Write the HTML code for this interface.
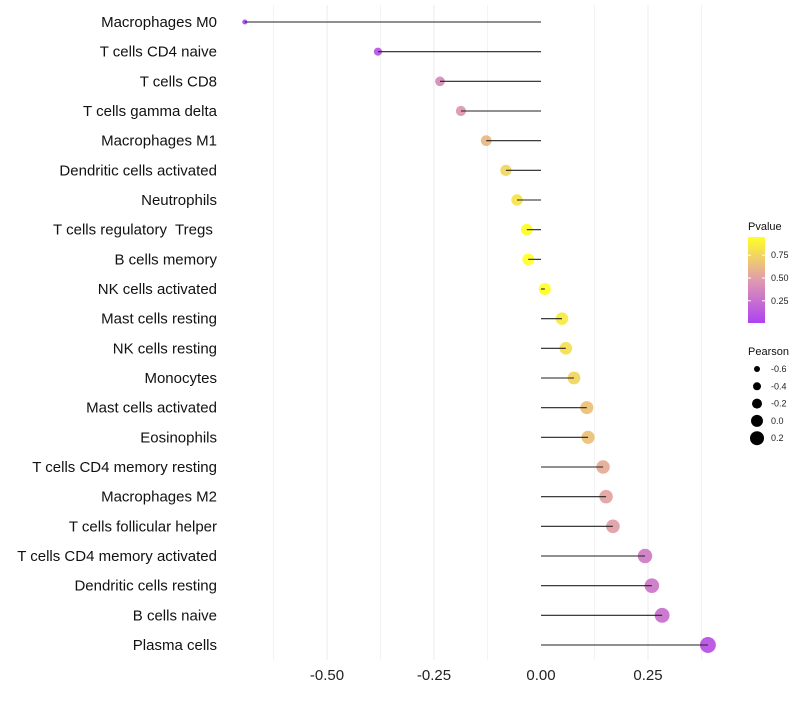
<!DOCTYPE html>
<html><head><meta charset="utf-8"><style>
body{margin:0;background:#fff;font-family:"Liberation Sans",sans-serif}
svg text{font-family:"Liberation Sans",sans-serif}
</style></head><body>
<svg id="chart" width="800" height="700"></svg>
<script>
const categories=["Macrophages M0","T cells CD4 naive","T cells CD8","T cells gamma delta","Macrophages M1","Dendritic cells activated","Neutrophils","T cells regulatory\u00a0 Tregs\u00a0","B cells memory","NK cells activated","Mast cells resting","NK cells resting","Monocytes","Mast cells activated","Eosinophils","T cells CD4 memory resting","Macrophages M2","T cells follicular helper","T cells CD4 memory activated","Dendritic cells resting","B cells naive","Plasma cells"];
const pearson=[-0.692,-0.381,-0.236,-0.187,-0.128,-0.082,-0.056,-0.033,-0.030,0.009,0.049,0.058,0.077,0.107,0.110,0.145,0.152,0.168,0.243,0.259,0.283,0.390];
const pvalue=[0.03,0.12,0.40,0.45,0.62,0.76,0.82,0.94,0.95,0.98,0.85,0.80,0.75,0.66,0.66,0.56,0.52,0.50,0.32,0.30,0.26,0.10];
const xTicks=[-0.5,-0.25,0,0.25];
const xTickLabels=["-0.50","-0.25","0.00","0.25"];
const pTicks=[0.25,0.5,0.75];
const sizeTicks=[-0.6,-0.4,-0.2,0.0,0.2];
const NS="http://www.w3.org/2000/svg";
const svg=document.getElementById('chart');
function el(t,a,p){const e=document.createElementNS(NS,t);for(const k in a)e.setAttribute(k,a[k]);(p||svg).appendChild(e);return e;}
const x=v=>541+v*428;
const y=i=>22+i*(623/21);
const r=v=>6+5*v;
function lerp(a,b,t){return Math.round(a+(b-a)*t);}
function color(p){const t=Math.max(0,Math.min(1,(p-0.006)/(0.95-0.006)));
 const s=[[160,32,240],[218,138,160],[255,255,0]];let a,b,u;
 if(t<0.5){a=s[0];b=s[1];u=t/0.5;}else{a=s[1];b=s[2];u=(t-0.5)/0.5;}
 return `rgb(${lerp(a[0],b[0],u)},${lerp(a[1],b[1],u)},${lerp(a[2],b[2],u)})`;}
for(let v=-0.625;v<=0.375;v+=0.125){if(Math.abs(v)<1e-9)continue;const g=el('line',{x1:x(v),x2:x(v),y1:5,y2:660,stroke:'#ebebeb','stroke-width':Math.abs(v*4-Math.round(v*4))<1e-9?1:0.6});
}
xTicks.forEach((v,i)=>{const t=el('text',{x:x(v),y:680,'text-anchor':'middle','font-size':15,fill:'#222'});t.textContent=xTickLabels[i];
});
categories.forEach((c,i)=>{
 const t=el('text',{x:217,y:y(i)+5,'text-anchor':'end','font-size':15,fill:'#111'});t.textContent=c;
 
 const d=el('circle',{cx:x(pearson[i]),cy:y(i),r:r(pearson[i]),fill:color(pvalue[i]),'fill-opacity':0.8});
 
 const l=el('line',{x1:x(0),x2:x(pearson[i]),y1:y(i),y2:y(i),stroke:'#222','stroke-width':1.1});
 
});
const lt=el('text',{x:748,y:230,'font-size':11,fill:'#111'});lt.textContent='Pvalue';

const defs=el('defs',{});const lg=el('linearGradient',{id:'pg',x1:0,y1:1,x2:0,y2:0},defs);
[0,0.25,0.5,0.75,1].forEach(o=>el('stop',{offset:o,'stop-color':color(0.006+o*(0.944)),'stop-opacity':0.85},lg));
const bar=el('rect',{x:748,y:237,width:17,height:86,fill:'url(#pg)'});

const py=p=>323-(p-0.006)/(0.944)*86;
pTicks.forEach(p=>{el('line',{x1:748,x2:751,y1:py(p),y2:py(p),stroke:'#fff'});el('line',{x1:762,x2:765,y1:py(p),y2:py(p),stroke:'#fff'});
 const t=el('text',{x:771,y:py(p)+3,'font-size':9,fill:'#222'});t.textContent=p.toFixed(2);
 });
const st=el('text',{x:748,y:355,'font-size':11,fill:'#111'});st.textContent='Pearson';

sizeTicks.forEach((v,i)=>{const cy=369+i*17.3;
 const c=el('circle',{cx:757,cy:cy,r:r(v),fill:'#000'});
 const t=el('text',{x:771,y:cy+3,'font-size':9,fill:'#222'});t.textContent=v.toFixed(1);
 });
</script>
</body></html>
